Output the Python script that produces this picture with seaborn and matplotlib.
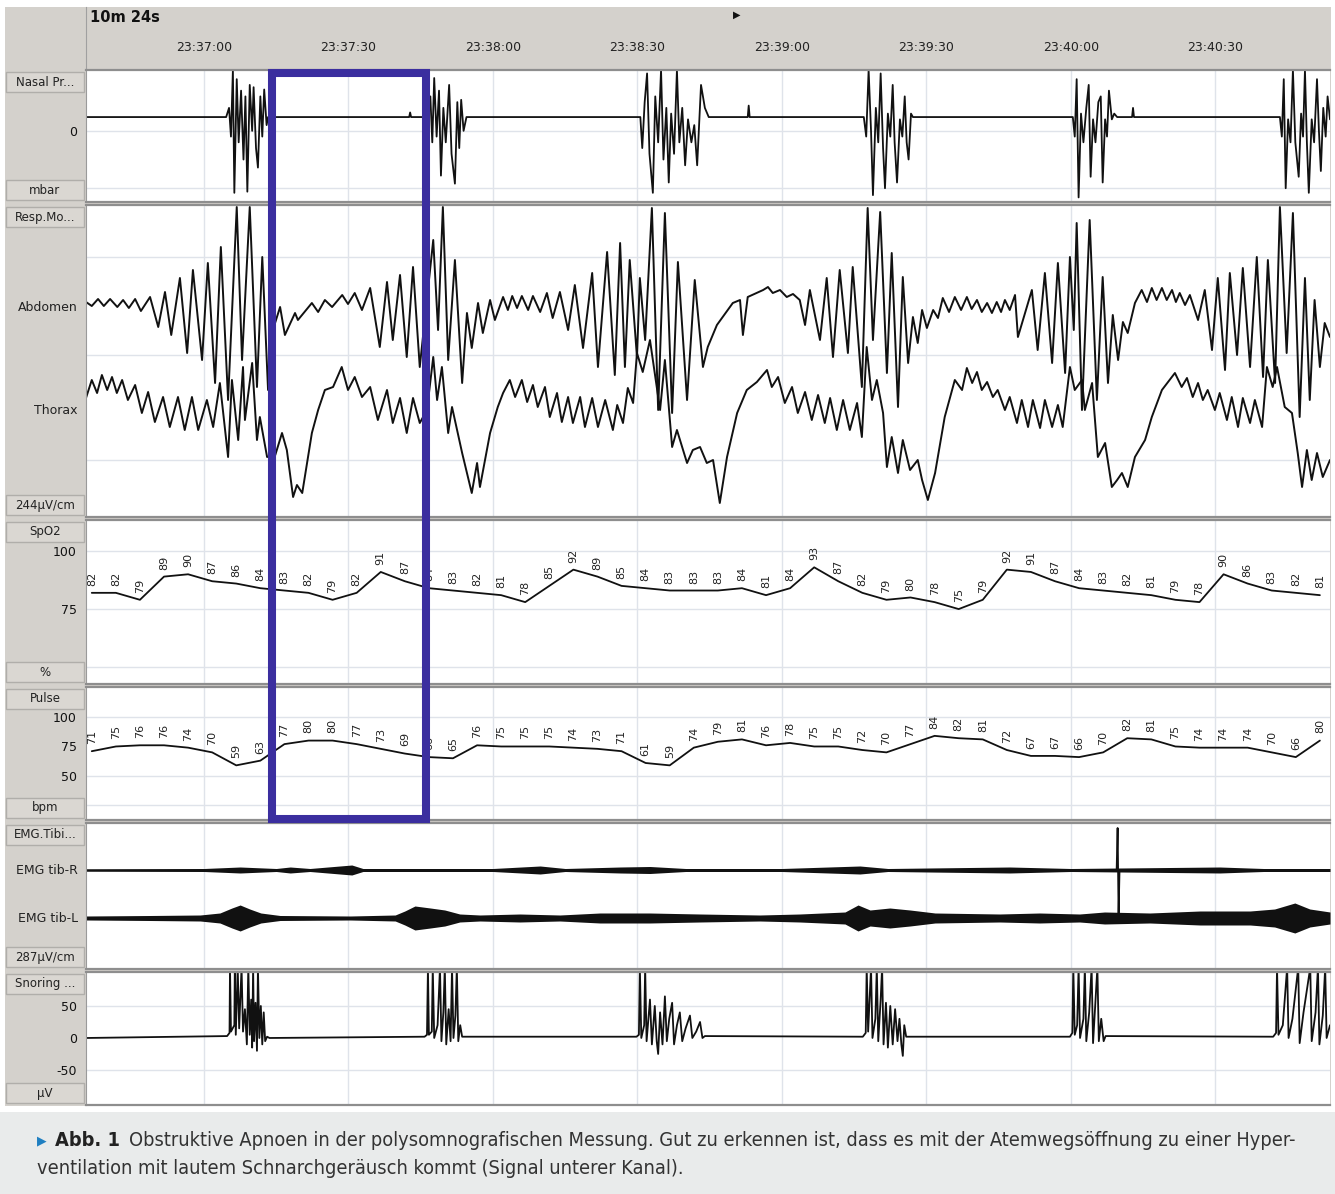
import numpy as np
import pandas as pd
import matplotlib
matplotlib.use("Agg")
import matplotlib.pyplot as plt
import matplotlib.transforms as mtransforms
from matplotlib.patches import Rectangle
from matplotlib.ticker import FixedLocator
from matplotlib import font_manager
import seaborn as sns

sns.set_style("white")
plt.rcParams['font.family'] = ['DejaVu Sans']

# ---------------- data: time axis in seconds after 23:36:30 ----------------
clock_secs = [30, 60, 90, 120, 150, 180, 210, 240]
clock_labels = ['23:37:00', '23:37:30', '23:38:00', '23:38:30',
                '23:39:00', '23:39:30', '23:40:00', '23:40:30']
t_view = (5.5, 263.8)
apnea_window = (44.2, 76.1)   # marked obstructive apnea

# nasal pressure (mbar)
nasal_t = [5.5,
           34.6, 35.2, 35.6, 36.0, 36.3, 36.8, 37.2, 37.7, 38.2, 38.6, 39.0, 39.5, 40.0, 40.3, 40.8, 41.2, 41.7, 42.1, 42.5, 43.0, 43.3,
           72.6, 72.8, 73.0,
           76.6, 77.0, 77.4, 77.8, 78.3, 78.8, 79.2, 79.7, 80.2, 80.9, 81.4, 82.1, 82.6, 83.0, 83.4, 83.9, 84.5,
           120.6, 121.0, 121.5, 122.0, 122.5, 123.2, 123.7, 124.3, 124.9, 125.4, 126.0, 126.5, 127.0, 127.6, 128.2, 128.7, 129.3, 129.9, 130.5, 131.2, 131.8, 132.4, 133.2, 134.0, 134.8,
           142.9, 143.1, 143.3,
           167.0, 167.5, 168.0, 168.5, 168.9, 169.5, 170.0, 170.5, 171.0, 171.4, 172.0, 172.5, 173.0, 173.4, 173.9, 174.5, 175.0, 175.5, 175.9, 176.3, 176.8, 177.2,
           210.4, 210.8, 211.2, 211.6, 212.1, 212.6, 213.2, 213.7, 214.1, 214.6, 215.1, 215.7, 216.2, 216.6, 217.1, 217.5, 217.9, 218.5, 219.0, 219.6,
           222.7, 222.9, 223.1,
           253.4, 253.8, 254.2, 254.6, 255.1, 255.6, 256.1, 256.6, 257.3, 257.8, 258.2, 258.6, 259.0, 259.4, 260.0, 260.5, 261.1, 261.5, 261.9, 262.4, 262.9, 263.3, 263.8]
nasal_v = [1.2,
           1.2, 2.0, -0.5, 5.3, -5.4, 4.5, -1.0, 3.5, -2.5, 3.0, -5.3, 4.0, 0.0, 3.8, -1.5, -3.2, 3.0, -0.5, 3.6, 0.5, 1.2,
           1.2, 1.6, 1.2,
           1.2, 3.0, -1.0, 4.6, -0.5, 3.5, -3.9, 2.0, -1.0, 4.0, -2.0, -4.6, 2.5, -1.5, 2.7, 0.0, 1.2,
           1.2, -1.5, 2.5, 5.0, -2.0, -5.4, 3.0, -1.0, 5.3, -2.5, 2.0, -4.5, 1.5, -2.0, 5.3, -1.0, 2.0, -3.0, 1.0, -1.0, 0.5, -3.0, 4.0, 2.0, 1.2,
           1.2, 2.2, 1.2,
           1.2, -0.5, 5.3, 0.0, -5.6, 2.0, -1.0, 5.0, -1.5, -5.0, 1.5, -0.5, 4.0, -1.0, -4.5, 1.0, -0.5, 3.0, -1.0, -2.5, 1.5, 1.2,
           1.2, -0.5, 4.5, -5.8, 1.5, -1.0, 2.0, 4.0, -4.0, 1.0, -1.0, 2.5, 3.0, -4.5, 1.0, -0.5, 3.5, 1.0, 1.5, 1.2,
           1.2, 2.0, 1.2,
           1.2, -0.5, 4.5, -5.0, 1.0, -1.0, 5.3, -1.0, -4.0, 1.5, -0.5, 5.3, -1.0, -5.4, 1.0, -1.0, 4.5, 0.0, -3.5, 2.0, -0.5, 3.0, 1.0]

# respiratory effort, abdomen (deflection from its baseline)
abdomen_t = [5.5, 6.7, 8.0, 9.2, 10.5, 12.0, 13.2, 14.4, 15.7, 16.9,
             18.8, 20.5, 21.9, 23.2, 25.0, 26.5, 27.7, 29.6, 30.8, 32.3,
             33.5, 35.0, 36.8, 37.9, 39.5, 41.0, 42.1, 43.3, 44.3, 45.8,
             46.8, 48.9, 49.5, 52.4, 53.7, 55.1, 56.6, 58.7, 59.9, 61.3,
             62.8, 64.5, 66.5, 68.0, 69.2, 70.7, 72.1, 73.4, 74.8, 77.6,
             78.6, 79.6, 80.7, 82.1, 83.6, 84.6, 85.6, 86.9, 87.9, 89.4,
             90.4, 92.1, 93.1, 94.0, 95.0, 96.0, 97.3, 98.3, 99.8, 101.2,
             102.4, 103.9, 105.6, 107.0, 108.7, 110.6, 111.8, 113.7, 115.3, 116.4,
             117.4, 118.4, 119.9, 120.5, 121.6, 123.0, 124.3, 125.7, 127.2, 128.4,
             130.3, 131.9, 133.6, 134.6, 136.5, 139.8, 141.3, 141.9, 142.9, 146.1,
             147.1, 148.1, 149.6, 151.0, 152.3, 153.7, 154.8, 155.8, 157.9, 159.3,
             160.6, 162.0, 163.7, 164.7, 166.6, 167.8, 168.9, 170.4, 171.8, 172.8,
             174.1, 175.1, 176.2, 177.2, 178.2, 179.1, 180.1, 181.4, 182.4, 183.4,
             184.7, 185.9, 187.2, 188.4, 189.4, 190.5, 191.5, 192.6, 193.6, 194.6,
             195.5, 196.3, 197.3, 198.4, 199.0, 201.9, 203.1, 204.6, 206.1, 207.3,
             208.8, 209.8, 210.6, 211.2, 212.3, 213.9, 215.4, 216.6, 217.7, 218.7,
             219.8, 220.8, 221.8, 223.3, 224.7, 225.8, 226.8, 227.8, 228.9, 229.9,
             231.0, 231.8, 232.6, 233.7, 234.7, 236.4, 237.8, 239.3, 240.5, 242.0,
             243.0, 244.5, 245.7, 247.2, 248.6, 249.9, 250.9, 252.4, 253.4, 254.8,
             256.1, 257.5, 258.6, 259.6, 260.6, 261.7, 262.7, 263.8]
abdomen_v = [3, -1, 6, -1, 6, -2, 5, -3, 6, -6,
             8, -22, 13, -30, 27, -48, 35, -55, 42, -78,
             58, -95, 98, -55, 98, -82, 48, -85, -25, -2,
             -30, -8, -15, 2, -7, 5, -2, 10, 1, 12,
             -5, 17, -42, 23, -35, 30, -52, 38, -62, 65,
             -25, 98, -55, 45, -78, -8, -43, 2, -28, 5,
             -15, 8, -5, 9, -3, 9, -5, 9, -7, 12,
             -13, 13, -25, 20, -43, 32, -62, 53, -70, 62,
             -62, 45, -52, 27, -35, 97, -105, 92, -108, 43,
             -95, 25, -62, -42, -20, 2, 5, -30, 8, 15,
             18, 12, 15, 8, 11, 5, -20, 15, -35, 27,
             -52, 35, -48, 38, -82, 97, -35, 93, -68, 52,
             -102, 28, -58, -12, -38, -5, -23, -5, -13, 7,
             -7, 8, -5, 8, -4, 5, -7, 2, -8, 3,
             -7, 5, -5, 10, -32, 15, -45, 32, -58, 42,
             -68, 48, -25, 82, -105, 85, -95, 28, -78, -10,
             -55, -17, -28, 2, 15, 3, 17, 5, 17, 5,
             15, 3, 12, 0, 10, -15, 15, -45, 27, -65,
             32, -50, 37, -62, 48, -72, 45, -78, 98, -48,
             92, -112, 27, -95, 5, -62, -18, -32]

# respiratory effort, thorax
thorax_t = [5.5, 6.7, 7.8, 8.8, 9.9, 10.9, 11.9, 13.0, 14.2, 15.7,
            17.1, 18.4, 19.8, 21.5, 22.9, 24.6, 26.0, 27.5, 28.8, 30.6,
            31.9, 33.3, 35.0, 35.8, 37.1, 38.1, 38.5, 40.0, 41.0, 41.6,
            43.1, 44.8, 46.2, 47.2, 48.5, 49.3, 50.4, 52.4, 53.7, 55.1,
            56.8, 58.6, 59.9, 61.3, 62.8, 64.5, 66.1, 68.0, 69.2, 70.7,
            72.1, 73.4, 74.8, 76.3, 77.6, 78.4, 79.4, 80.7, 81.5, 83.6,
            85.6, 86.7, 87.3, 89.4, 91.0, 92.1, 93.5, 94.6, 96.0, 97.1,
            98.3, 99.3, 100.8, 101.8, 103.3, 104.3, 105.6, 106.6, 108.1, 109.1,
            110.6, 111.8, 113.3, 114.9, 115.8, 117.0, 118.0, 119.1, 119.9, 121.1,
            122.6, 124.7, 125.7, 127.2, 128.2, 130.3, 131.5, 133.0, 134.4, 135.7,
            137.1, 138.6, 140.7, 142.7, 144.8, 146.9, 147.9, 149.2, 150.6, 152.1,
            153.3, 154.8, 156.2, 157.5, 158.9, 160.0, 161.4, 162.7, 164.1, 165.6,
            166.6, 167.6, 168.7, 169.7, 171.0, 171.8, 172.8, 174.1, 175.1, 176.6,
            178.2, 179.1, 180.3, 181.8, 183.8, 185.9, 187.4, 188.4, 189.5, 190.5,
            191.5, 192.6, 193.8, 194.8, 196.3, 197.3, 198.8, 199.8, 201.1, 202.1,
            203.6, 204.6, 206.1, 207.3, 208.3, 209.8, 210.8, 212.3, 212.9, 214.4,
            215.6, 217.1, 218.5, 219.6, 220.6, 221.8, 223.3, 225.4, 226.8, 228.9,
            231.6, 233.0, 234.1, 235.3, 236.4, 237.4, 238.4, 239.9, 240.9, 242.4,
            243.4, 244.7, 245.7, 247.2, 248.2, 249.7, 250.7, 251.9, 252.8, 254.4,
            255.9, 257.1, 258.0, 259.0, 260.0, 261.1, 262.3, 263.8]
thorax_v = [12, 30, 17, 35, 20, 33, 17, 30, 10, 25,
            -3, 18, -12, 13, -17, 13, -20, 13, -20, 10,
            -17, 27, -47, 30, -30, 43, -10, 47, -30, -7,
            -47, -45, -23, -40, -87, -75, -83, -23, 0, 20,
            23, 43, 20, 33, 13, 23, -10, 20, -13, 12,
            -23, 12, -13, 0, 53, 10, 43, -23, 3, -43,
            -83, -53, -77, -23, 3, 17, 30, 13, 30, 8,
            25, 3, 23, -7, 17, -12, 13, -13, 13, -17,
            12, -17, 10, -20, 5, -13, 22, 7, 57, 38,
            70, 0, 50, -37, -20, -53, -40, -37, -53, -50,
            -93, -47, -3, 20, 28, 40, 23, 33, 7, 23,
            -3, 18, -10, 15, -13, 12, -20, 10, -20, 7,
            -27, 63, 10, 30, -3, -57, -27, -63, -30, -60,
            -50, -70, -90, -63, -7, 30, 20, 42, 27, 38,
            20, 28, 13, 20, 0, 13, -13, 10, -17, 10,
            -18, 10, -17, 5, -17, 43, 20, 30, 0, 27,
            -47, -33, -77, -70, -63, -77, -47, -30, -7, 20,
            37, 23, 32, 13, 27, 10, 20, 0, 17, -10,
            13, -17, 12, -13, 10, -17, 43, 23, 43, 3,
            -3, -43, -77, -40, -70, -43, -67, -50]

# numeric read-outs every 5 s
label_secs = np.arange(6.7, 262, 5.0)
spo2_vals = [82, 82, 79, 89, 90, 87, 86, 84, 83, 82,
             79, 82, 91, 87, 84, 83, 82, 81, 78, 85,
             92, 89, 85, 84, 83, 83, 83, 84, 81, 84,
             93, 87, 82, 79, 80, 78, 75, 79, 92, 91,
             87, 84, 83, 82, 81, 79, 78, 90, 86, 83,
             82, 81]
pulse_vals = [71, 75, 76, 76, 74, 70, 59, 63, 77, 80,
              80, 77, 73, 69, 66, 65, 76, 75, 75, 75,
              74, 73, 71, 61, 59, 74, 79, 81, 76, 78,
              75, 75, 72, 70, 77, 84, 82, 81, 72, 67,
              67, 66, 70, 82, 81, 75, 74, 74, 74, 70,
              66, 80]

# EMG tibialis: envelope half-amplitudes
emg_r_t = [5.5, 30.0, 37.5, 45.0, 47.9, 52.0, 60.7, 63.0, 90.0, 99.8, 105.0,
           116.4, 122.6, 130.0, 150.0, 166.2, 172.0, 197.3, 210.0, 240.9, 250.0, 263.8]
emg_r_amp = [1.2, 1.5, 3, 1.5, 3, 1.5, 5, 1.5, 1.5, 4, 1.5,
             3, 3.5, 1.5, 1.5, 4, 1.5, 3, 1.5, 3, 1.5, 1.5]
emg_r_spike_t = [219.5, 219.7, 219.9, 220.1]
emg_r_spike_v = [0, 42, -44, 0]
emg_l_t = [5.5, 18.8, 29.2, 33.3, 35.8, 37.5, 39.5, 41.8, 45.8, 60.4,
           69.7, 71.7, 73.8, 77.0, 80.0, 83.1, 87.3, 95.6, 103.9, 112.2,
           122.6, 133.0, 145.4, 153.7, 163.1, 165.8, 168.3, 172.4, 176.6, 181.8,
           195.2, 203.5, 211.8, 217.0, 226.4, 236.8, 247.2, 252.3, 256.5, 259.6, 263.8]
emg_l_amp = [2, 2.5, 3, 5, 10, 13, 9, 5, 2.5, 2,
             3, 7, 12, 10, 8, 4, 3, 4, 3, 5,
             5, 4, 3, 4, 6, 13, 8, 10, 8, 5,
             4, 5, 4, 6, 5, 7, 7, 9, 15, 9, 6]

# snoring microphone (µV)
snore_t = [5.5,
           34.8, 35.3, 35.4, 35.6, 36.3, 36.4, 36.6, 37.0, 37.3, 37.8, 38.1, 38.5, 38.9, 39.2, 39.5, 39.8, 40.0, 40.2, 40.4, 40.7, 41.0, 41.2, 41.5, 41.8, 42.1, 42.4, 42.7, 43.1, 43.6,
           75.8, 76.3, 76.5, 76.7, 77.3, 77.5, 77.8, 78.5, 79.0, 79.3, 79.7, 80.0, 80.3, 80.8, 81.2, 81.5, 81.8, 82.2, 82.5, 82.8, 83.2, 83.6,
           119.8, 120.3, 120.5, 120.8, 121.4, 121.6, 121.9, 122.6, 123.0, 123.6, 124.0, 124.3, 124.7, 125.2, 125.7, 126.1, 126.6, 127.2, 127.6, 128.2, 128.8, 129.3, 130.0, 130.9, 131.4, 132.2, 133.0, 133.5, 134.0,
           166.8, 167.4, 167.6, 167.9, 168.5, 168.8, 169.4, 169.7, 170.0, 170.5, 170.8, 171.1, 171.6, 172.0, 172.5, 173.0, 173.5, 174.0, 174.4, 174.8, 175.1, 175.4, 175.8,
           209.8, 210.3, 210.5, 210.8, 211.3, 211.6, 211.9, 212.6, 212.9, 213.2, 213.8, 214.3, 214.6, 215.0, 215.5, 215.8, 216.3, 216.8, 217.2,
           252.0, 252.6, 252.8, 253.1, 254.0, 254.9, 255.2, 256.0, 257.2, 257.5, 258.3, 259.7, 260.0, 260.8, 261.3, 261.6, 262.3, 262.8, 263.1, 263.8]
snore_v = [0,
           3, 8, 110, 10, 20, 110, 5, 110, 15, 110, 10, 45, -10, 110, 5, 60, -15, 110, -5, 55, -20, 110, 0, 50, -10, 40, -5, 2, 0,
           2, 5, 110, 5, 10, 110, 0, 20, 110, -5, 40, 110, -10, 45, -5, 110, 0, 35, 110, -5, 20, 2,
           2, 5, 110, 0, 20, 110, -5, 60, -10, 50, -5, -25, 40, -10, 65, -5, 30, 55, -10, 20, 40, -5, 15, 35, 0, 10, 25, 0, 3,
           2, 8, 110, 10, 110, 0, 30, 110, -5, 60, 110, -10, 55, -15, 50, -10, 45, -5, 30, -10, -28, 20, 2,
           2, 8, 110, 5, 20, 110, 0, 30, 110, -5, 40, 110, -8, 45, 110, -5, 30, -5, 3,
           2, 8, 110, 5, 20, 110, 0, 30, 110, -8, 40, 110, -5, 40, 110, -10, 35, 110, 0, 20]

caption_line1 = ('Obstruktive Apnoen in der polysomnografischen Messung. Gut zu erkennen ist, '
                 'dass es mit der Atemwegsöffnung zu einer Hyper-')
caption_line2 = 'ventilation mit lautem Schnarchgeräusch kommt (Signal unterer Kanal).'

# ---------------- layout ----------------
W, H = 1335, 1194
GRAY = '#d4d1cc'
BOX = '#dad7d2'
GRID = '#dfe3ea'
INK = '#111111'

fig = plt.figure(figsize=(W / 100, H / 100), dpi=100)
fig.patch.set_facecolor('white')


def fx(x):
    return x / W


def fy(y):
    return 1 - y / H


def px_axes(x0, y0, x1, y1):
    return fig.add_axes([fx(x0), fy(y1), (x1 - x0) / W, (y1 - y0) / H])


def fig_rect(x0, y0, x1, y1, **kw):
    r = Rectangle((fx(x0), fy(y1)), (x1 - x0) / W, (y1 - y0) / H, transform=fig.transFigure, **kw)
    fig.add_artist(r)
    return r


def fig_text(x, y, s, **kw):
    return fig.text(fx(x), fy(y), s, **kw)


def panel(y0, y1, ylim, hlines=()):
    ax = px_axes(86, y0, 1330, y1)
    ax.set_xlim(*t_view)
    ax.set_ylim(*ylim)
    ax.set_xticks(clock_secs)
    ax.tick_params(axis='x', length=0, labelbottom=False)
    ax.grid(axis='x', color=GRID, lw=1.0)
    ax.set_yticks([])
    for side in ['top', 'bottom']:
        ax.spines[side].set_color('#8e8e8e')
        ax.spines[side].set_linewidth(1.6)
    ax.spines['left'].set_color('#9a9a9a')
    ax.spines['right'].set_visible(False)
    for h in hlines:
        ax.axhline(h, color=GRID, lw=1.0, zorder=0)
    return ax


def yticks(ax, major, labels, minor):
    ax.set_yticks(major, labels)
    ax.yaxis.set_minor_locator(FixedLocator(minor))
    ax.tick_params(axis='y', which='major', direction='out', length=5.5, width=1.5,
                   pad=1, labelsize=9, colors=INK)
    ax.tick_params(axis='y', which='minor', direction='out', length=3, width=1.3, colors=INK)


def draw_signal(ax, t, v, offset=0.0, lw=1.15):
    df = pd.DataFrame({'t': t, 'v': np.asarray(v, dtype=float) + offset})
    sns.lineplot(data=df, x='t', y='v', ax=ax, color=INK, linewidth=lw,
                 estimator=None, sort=False, legend=False)
    ax.set_xlabel('')
    ax.set_ylabel('')


def draw_emg(ax, t, amp, offset):
    amp = np.asarray(amp, dtype=float)
    ax.fill_between(t, offset - amp, offset + amp, color=INK, lw=0)
    draw_signal(ax, t, np.zeros(len(t)), offset, lw=1.0)


# grey instrument background
fig_rect(5, 7, 1331, 1106, facecolor=GRAY, edgecolor='none', zorder=-1)

# time header
hdr = px_axes(86, 7, 1330, 70)
hdr.set_facecolor(GRAY)
hdr.set_xlim(*t_view)
hdr.set_ylim(0, 1)
hdr.set_yticks([])
hdr.set_xticks(clock_secs, [''] * len(clock_secs))
hdr.xaxis.set_minor_locator(FixedLocator(np.arange(10, 264, 5)))
hdr.tick_params(axis='x', which='major', direction='in', length=8, width=1.6, color='#222')
hdr.tick_params(axis='x', which='minor', direction='in', length=4, width=1.4, color='#222')
for side in ['top', 'right', 'bottom']:
    hdr.spines[side].set_visible(False)
hdr.spines['left'].set_color('#a0a0a0')
for s, lab in zip(clock_secs, clock_labels):
    hdr.text(s, 0.365, lab, ha='center', va='center', fontsize=9, color='#222')
fig_text(90, 17, '10m 24s', fontsize=10.5, fontweight='bold', va='center', color='#111')
fig_text(737, 15, '\u25B6', fontsize=7, ha='center', va='center', color='#111')

# panels
ax_nasal = panel(70, 202, (-6.2, 5.3), hlines=(0, -5))
yticks(ax_nasal, [0], ['0'], [-3, -2, -1, 1, 2, 3])
draw_signal(ax_nasal, nasal_t, nasal_v, lw=1.3)

ax_resp = panel(205, 517, (-156, 156), hlines=(104, 6, -99))
draw_signal(ax_resp, abdomen_t, abdomen_v, offset=56, lw=1.4)
draw_signal(ax_resp, thorax_t, thorax_v, offset=-49, lw=1.4)

ax_spo2 = panel(520, 684, (42.7, 113.4), hlines=(100, 75, 50))
yticks(ax_spo2, [75, 100], ['75', '100'], [55, 60, 65, 70, 80, 85, 90, 95])
draw_signal(ax_spo2, label_secs, spo2_vals, lw=1.3)
for s, v in zip(label_secs, spo2_vals):
    ax_spo2.text(s, v + 3, str(v), rotation=90, ha='center', va='bottom',
                 fontsize=8, color='#222', clip_on=True)

ax_pulse = panel(687, 820, (12.7, 125.4), hlines=(100, 50, 25))
yticks(ax_pulse, [50, 75, 100], ['50', '75', '100'],
       [m for m in np.arange(45, 101, 2.5) if m not in (50, 75, 100)])
draw_signal(ax_pulse, label_secs, pulse_vals, lw=1.3)
for s, v in zip(label_secs, pulse_vals):
    ax_pulse.text(s, v + 6, str(v), rotation=90, ha='center', va='bottom',
                  fontsize=8, color='#222', clip_on=True)

ax_emg = panel(823, 969, (-73, 73))
draw_emg(ax_emg, emg_r_t, emg_r_amp, 26)
draw_emg(ax_emg, emg_l_t, emg_l_amp, -22)
draw_signal(ax_emg, emg_r_spike_t, emg_r_spike_v, offset=26, lw=1.3)

ax_snore = panel(972, 1105, (-104.7, 103.1), hlines=(50, -50))
yticks(ax_snore, [-50, 0, 50], ['-50', '0', '50'],
       [-60, -40, -30, -20, -10, 10, 20, 30, 40, 60])
draw_signal(ax_snore, snore_t, snore_v, lw=1.3)

# channel label column
channels = [('Nasal Pr...', 'mbar', 70, 202), ('Resp.Mo...', '244µV/cm', 205, 517),
            ('SpO2', '%', 520, 684), ('Pulse', 'bpm', 687, 820),
            ('EMG.Tibi...', '287µV/cm', 823, 969), ('Snoring ...', 'µV', 972, 1105)]
for name, unit, top, bot in channels:
    fig_rect(6, top + 2, 84, top + 22, facecolor=BOX, edgecolor='#b0aeaa', lw=1, zorder=1)
    fig_rect(6, bot - 22, 84, bot - 2, facecolor=BOX, edgecolor='#b0aeaa', lw=1, zorder=1)
    fig_text(45, top + 12, name, ha='center', va='center', fontsize=8.5, color='#222', zorder=2)
    fig_text(45, bot - 12, unit, ha='center', va='center', fontsize=8.5, color='#222', zorder=2)
for lab, y in [('Abdomen', 308), ('Thorax', 411), ('EMG tib-R', 870), ('EMG tib-L', 918)]:
    fig_text(78, y, lab, ha='right', va='center', fontsize=9, color='#222')

# apnea marker box
trans = mtransforms.blended_transform_factory(ax_nasal.transData, fig.transFigure)
fig.add_artist(Rectangle((apnea_window[0], fy(819)), apnea_window[1] - apnea_window[0],
                         fy(72.5) - fy(819), transform=trans, fill=False,
                         edgecolor='#3b2e9f', lw=5.8, joinstyle='miter', zorder=10, clip_on=False))

# caption
fig_rect(0, 1112, W, H, facecolor='#e9ebeb', edgecolor='none', zorder=-1)
installed = {f.name for f in font_manager.fontManager.ttflist}
if 'Liberation Sans Narrow' in installed:
    cap_kw = dict(family='Liberation Sans Narrow')
else:
    cap_kw = dict(family='DejaVu Sans', fontstretch='condensed')
renderer = fig.canvas.get_renderer()
cap_size = 12.0
fig_text(37, 1141, '\u25B6', color='#1f7fc1', fontsize=9, va='center', family='DejaVu Sans')
abb = fig_text(55, 1141, 'Abb. 1', fontsize=cap_size, fontweight='bold', va='center', color='#222', **cap_kw)
line1 = fig_text(120, 1141, caption_line1, fontsize=cap_size, va='center', color='#333', **cap_kw)
line2 = fig_text(37, 1168, caption_line2, fontsize=cap_size, va='center', color='#333', **cap_kw)
for _ in range(3):
    ab_end = abb.get_window_extent(renderer).x1
    line1.set_x((ab_end + 9) / W)
    width = line1.get_window_extent(renderer).width
    cap_size *= (1296 - ab_end - 9) / width
    for txt in (abb, line1, line2):
        txt.set_fontsize(cap_size)
line1.set_x((abb.get_window_extent(renderer).x1 + 9) / W)

fig.savefig('out.png', dpi=100, facecolor=fig.get_facecolor())
